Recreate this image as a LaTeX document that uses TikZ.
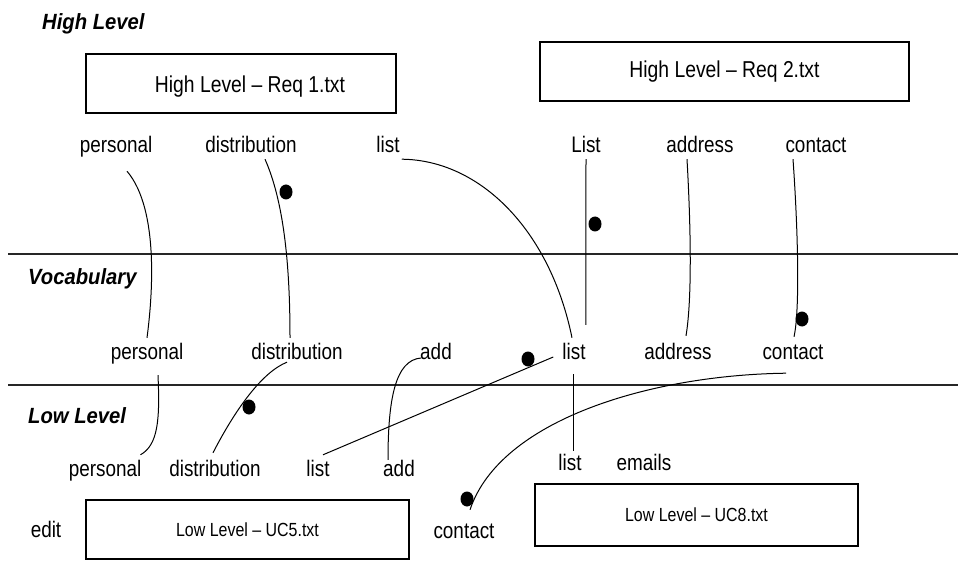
\documentclass[tikz,border=0pt]{standalone}
\usepackage{fontspec}
\usetikzlibrary{shapes.geometric}
\setmainfont{Liberation Sans}[FakeStretch=0.84]
\newfontfamily\ttlfont{Liberation Sans}[FakeStretch=0.92]
\begin{document}
\begin{tikzpicture}[x=1pt,y=-1pt,
  lbl/.style={font=\fontsize{22.5}{26}\selectfont, inner sep=0pt, anchor=base, text height=16pt, text depth=5pt},
  ttl/.style={font=\ttlfont\fontsize{22}{26}\selectfont\bfseries\itshape, inner sep=0pt, anchor=base west},
  box/.style={draw, line width=1.2pt, inner sep=0pt},
  boxtxt/.style={font=\fontsize{23}{26}\selectfont, inner sep=0pt},
  smalltxt/.style={font=\fontsize{19}{22}\selectfont, inner sep=0pt},
  dot/.style={ellipse, fill=black, inner sep=0pt, minimum width=13pt, minimum height=15pt},
  link/.style={line width=1pt},
  sep/.style={line width=1.3pt, draw=black!85}]
\useasboundingbox (0,0) rectangle (958,561);

% section titles
\node[ttl] (thigh) at (42,30) {High Level};
\node[ttl] (tvoc) at (28,284) {Vocabulary};
\node[ttl] (tlow) at (28,423) {Low Level};

% separators
\coordinate (s1a) at (8,254); \coordinate (s1b) at (958,254);
\coordinate (s2a) at (8,385); \coordinate (s2b) at (958,385);
\draw[sep] (s1a) -- (s1b);
\draw[sep] (s2a) -- (s2b);

% boxes
\node[box, minimum width=310pt, minimum height=59pt] (req1) at (241,83.5) {};
\node[boxtxt] (req1t) at ([shift={(9,3)}]req1.center) {High Level -- Req 1.txt};
\node[box, minimum width=369pt, minimum height=59pt] (req2) at (724.5,71.5) {};
\node[boxtxt] (req2t) at (req2.center) {High Level -- Req 2.txt};
\node[box, minimum width=323pt, minimum height=59pt] (uc5) at (247.5,529.5) {};
\node[smalltxt] (uc5t) at (uc5.center) {Low Level -- UC5.txt};
\node[box, minimum width=323pt, minimum height=62pt] (uc8) at (696.5,515) {};
\node[smalltxt] (uc8t) at (uc8.center) {Low Level -- UC8.txt};

% top labels
\node[lbl] (tpersonal) at (116,153) {personal};
\node[lbl] (tdistribution) at (251,153) {distribution};
\node[lbl] (tlist) at (388,153) {list};
\node[lbl] (tList) at (586,153) {List};
\node[lbl] (taddress) at (700,153) {address};
\node[lbl] (tcontact) at (816,153) {contact};

% middle labels
\node[lbl] (mpersonal) at (147,359) {personal};
\node[lbl] (mdistribution) at (297,359) {distribution};
\node[lbl] (madd) at (436,359) {add};
\node[lbl] (mlist) at (574,359) {list};
\node[lbl] (maddress) at (678,359) {address};
\node[lbl] (mcontact) at (793,359) {contact};

% bottom labels
\node[lbl] (bpersonal) at (105,476) {personal};
\node[lbl] (bdistribution) at (215,476) {distribution};
\node[lbl] (blist) at (318,476) {list};
\node[lbl] (badd) at (399,476) {add};
\node[lbl] (blist2) at (570,470) {list};
\node[lbl] (bemails) at (644,470) {emails};
\node[lbl] (bcontact) at (464,538) {contact};
\node[lbl] (bedit) at (46,537) {edit};

% dots
\node[dot] (d1) at (286,192) {};
\node[dot] (d2) at (595,224) {};
\node[dot] (d3) at (802,319) {};
\node[dot] (d4) at (528,359) {};
\node[dot] (d5) at (249,407) {};
\node[dot] (d6) at (467,499) {};

% connectors high -> vocabulary
\draw[link] ([shift={(11,13)}]tpersonal.south) .. controls (160,210) and (152,300) .. ([shift={(0,-5)}]mpersonal.north);
\draw[link] ([shift={(14,1)}]tdistribution.south) .. controls (283,200) and (290,260) .. ([shift={(-7,-5)}]mdistribution.north);
\draw[link] ([shift={(2,1)}]tlist.south east) .. controls (480,160) and (550,230) .. ([shift={(-2,-5)}]mlist.north);
\draw[link] ([shift={(0,1)}]tList.south) -- ([shift={(0,-18)}]mlist.north east);
\draw[link] ([shift={(-13,1)}]taddress.south) .. controls (691,230) and (692,300) .. ([shift={(8,-7)}]maddress.north);
\draw[link] ([shift={(-23,1)}]tcontact.south) .. controls (798,230) and (800,310) .. ([shift={(1,-6)}]mcontact.north);

% connectors vocabulary -> low
\draw[link] ([shift={(11,11)}]mpersonal.south) .. controls (160,420) and (158,445) .. ([shift={(-1,-5)}]bpersonal.north east);
\draw[link] ([shift={(-10,-2)}]mdistribution.south) .. controls (262,372) and (235,410) .. ([shift={(-2,-7)}]bdistribution.north);
\draw[link] ([shift={(1,-1)}]madd.base west) .. controls (395,360) and (388,400) .. ([shift={(-11,0)}]badd.north);
\draw[link] ([shift={(-9,-2)}]mlist.base west) -- ([shift={(5,-5)}]blist.north);
\draw[link] ([shift={(-1,10)}]mlist.south) -- ([shift={(3,-3)}]blist2.north);
\draw[link] ([shift={(-7,9)}]mcontact.south) .. controls (650,375) and (500,420) .. ([shift={(6,-12)}]bcontact.north);
\end{tikzpicture}
\end{document}
